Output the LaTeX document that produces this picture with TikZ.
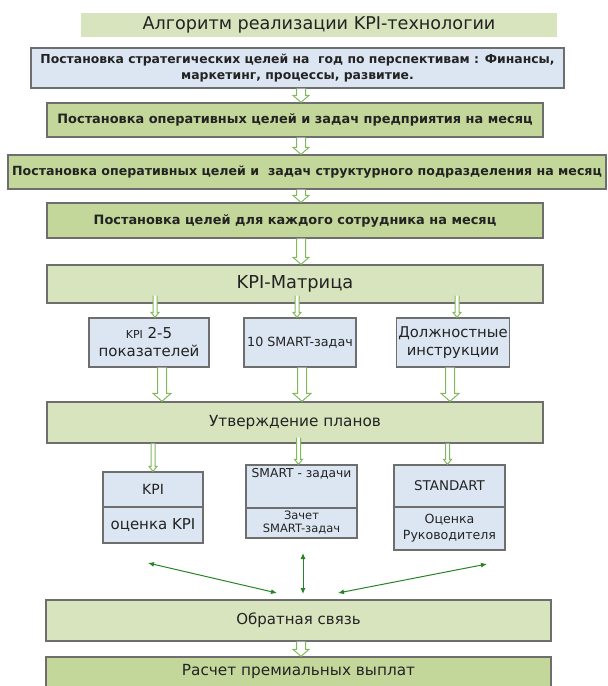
\documentclass[tikz,border=0pt]{standalone}
\usepackage{fontspec}
\setmainfont{DejaVu Sans}
\usetikzlibrary{arrows.meta,calc,positioning}
\definecolor{lightgreen}{RGB}{215,228,189}
\definecolor{darkgreen}{RGB}{196,215,155}
\definecolor{paleblue}{RGB}{220,230,242}
\definecolor{framegray}{RGB}{110,110,110}
\definecolor{arrgreen}{RGB}{130,185,90}
\definecolor{linegreen}{RGB}{40,130,40}
\definecolor{textgray}{RGB}{35,35,35}
\newcommand{\fsz}[2]{\fontsize{#1}{#2}\selectfont}
\newcommand{\hollowarr}[5]{\filldraw[harrow]let\p1=(#1),\p2=(#2)in(\x1-#3pt,\y1)--(\x1-#3pt,\y2+#5pt)--(\x1-#4pt,\y2+#5pt)--(\x1,\y2)--(\x1+#4pt,\y2+#5pt)--(\x1+#3pt,\y2+#5pt)--(\x1+#3pt,\y1);}
\tikzset{
  box/.style={draw=framegray,line width=1.3pt,inner sep=2pt,align=center,text=textgray},
  goalbox/.style={box,fill=darkgreen,font=\bfseries\fsz{12.9}{15}},
  stagebox/.style={box,fill=lightgreen,font=\fsz{15.3}{18}},
  toolbox/.style={box,fill=paleblue},
  harrow/.style={draw=arrgreen,fill=white,line width=1pt,line join=miter},
  fbarrow/.style={linegreen,line width=1pt,{Latex[length=6pt,width=5pt]}-{Latex[length=6pt,width=5pt]}}
}
\begin{document}
\begin{tikzpicture}[x=1pt,y=-1pt]
\useasboundingbox(0,0)rectangle(608,686);
\node[fill=lightgreen,minimum width=476,minimum height=24,font=\fsz{17.6}{20},text=textgray](title)at(319,25){Алгоритм реализации KPI-технологии};
\node[goalbox,fill=paleblue,minimum width=533,minimum height=40,font=\bfseries\fsz{12.4}{16}](s1)at(297.5,68){Постановка стратегических целей на~ год по перспективам : Финансы,\\маркетинг, процессы, развитие.};
\node[goalbox,minimum width=496,minimum height=34](s2)at(295,120){Постановка оперативных целей и задач предприятия на месяц};
\node[goalbox,minimum width=598,minimum height=34,font=\bfseries\fsz{12.6}{15}](s3)at(307,172){Постановка оперативных целей и~ задач структурного подразделения на месяц};
\node[goalbox,minimum width=496,minimum height=35](s4)at(295,220.5){Постановка целей для каждого сотрудника на месяц};
\node[stagebox,minimum width=496,minimum height=38,font=\fsz{17.8}{20}](mat)at(295,284){KPI-Матрица};
\node[toolbox,minimum width=120,minimum height=49,font=\fsz{15}{18}](k1)at(149,342.5){{\fsz{11}{13}KPI} 2-5\\показателей};
\node[toolbox,minimum width=112,minimum height=49,font=\fsz{12.7}{15}](k2)at(300,342.5){10 SMART-задач};
\node[toolbox,minimum width=110,minimum height=49,font=\fsz{14.8}{18}](k3)at(453,342.5){Должностные\\инструкции};
\node[stagebox,minimum width=496,minimum height=41](appr)at(295,422.5){Утверждение планов};
\node[toolbox,minimum width=100,minimum height=35,font=\fsz{14}{17}](l1t)at(153,489.5){KPI};
\node[toolbox,minimum width=100,minimum height=36,font=\fsz{15}{17}](l1b)at(153,525){оценка KPI};
\node[toolbox,minimum width=111,minimum height=43,label={[anchor=north,font=\fsz{12.3}{14},text=textgray]north:SMART - задачи}](l2t)at(301.5,486.5){};
\node[toolbox,minimum width=111,minimum height=30,font=\fsz{11.5}{13}](l2b)at(301.5,523){Зачет\\SMART-задач};
\node[toolbox,minimum width=111,minimum height=42,font=\fsz{13.4}{15}](l3t)at(449.5,486){STANDART};
\node[toolbox,minimum width=111,minimum height=43,font=\fsz{12.6}{16}](l3b)at(449.5,528.5){Оценка\\Руководителя};
\node[stagebox,minimum width=505,minimum height=41,font=\fsz{15}{18}](fb)at(298.5,620.5){Обратная связь};
\node[stagebox,fill=darkgreen,minimum width=505,minimum height=30](pay)at(298.5,672){Расчет премиальных выплат};
\coordinate(cmid)at(301,0);
\hollowarr{s1.south-|cmid}{s2.north-|cmid}{4.5}{8}{7}
\hollowarr{s2.south-|cmid}{s3.north-|cmid}{4.5}{8}{7}
\hollowarr{s3.south-|cmid}{s4.north-|cmid}{4.5}{8}{7}
\hollowarr{s4.south-|cmid}{mat.north-|cmid}{4.5}{8}{7}
\hollowarr{fb.south-|cmid}{pay.north-|cmid}{4.5}{8}{7}
\hollowarr{$(mat.south-|k1)+(6,-8)$}{$(k1.north)+(6,0)$}{2}{4}{5}
\hollowarr{$(mat.south-|k2)+(-3,-8)$}{$(k2.north)+(-3,0)$}{2}{4}{5}
\hollowarr{$(mat.south-|k3)+(4,-8)$}{$(k3.north)+(4,0)$}{2}{4}{5}
\hollowarr{$(k1.south)+(13,0)$}{$(appr.north-|k1)+(13,0)$}{4.5}{9}{8}
\hollowarr{$(k2.south)+(2,0)$}{$(appr.north-|k2)+(2,0)$}{4.5}{9}{8}
\hollowarr{$(k3.south)+(-3,0)$}{$(appr.north-|k3)+(-3,0)$}{4.5}{9}{8}
\hollowarr{appr.south-|l1t}{l1t.north}{2}{4}{5}
\hollowarr{$(appr.south-|l2t)+(-3,-6)$}{$(l2t.north)+(-3,0)$}{2}{4}{5}
\hollowarr{$(appr.south-|l3t)+(-2,0)$}{$(l3t.north)+(-2,0)$}{2}{4}{5}
\coordinate(fl)at(148,563);\coordinate(fm)at(303,553);\coordinate(fr)at(487,564);
\coordinate(tl)at(277,593);\coordinate(tm)at(303,594);\coordinate(tr)at(338,593);
\draw[fbarrow](fl)--(tl);\draw[fbarrow](fm)--(tm);\draw[fbarrow](fr)--(tr);
\end{tikzpicture}
\end{document}
